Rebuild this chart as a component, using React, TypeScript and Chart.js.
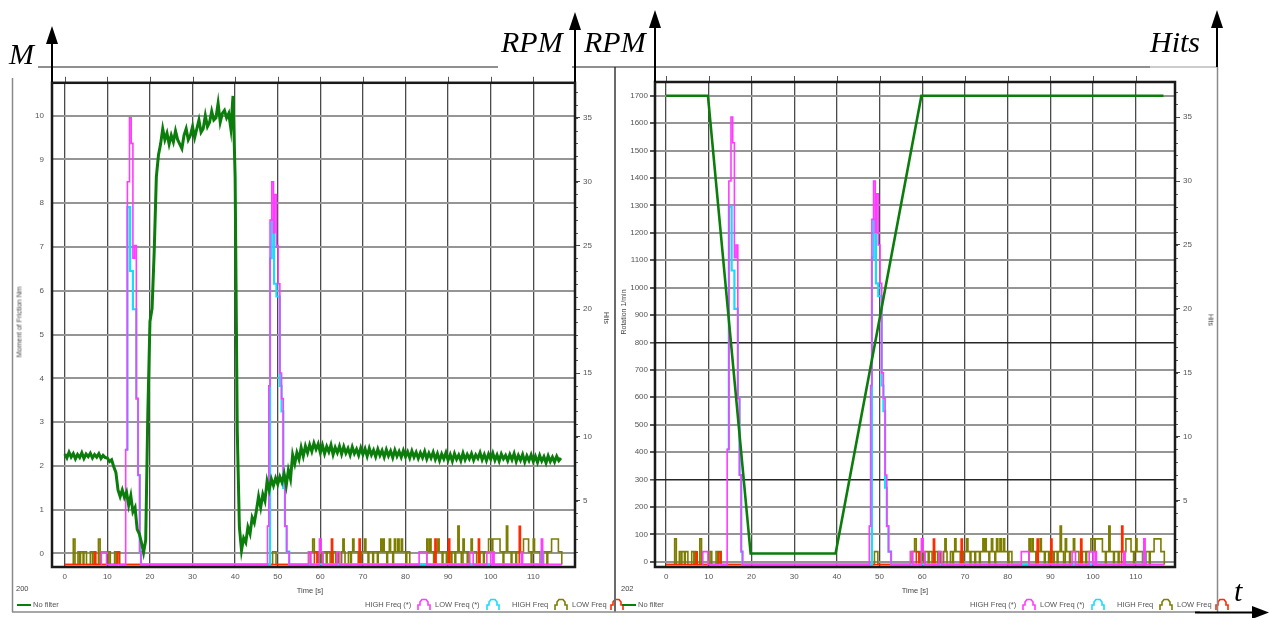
import React, { useEffect, useRef } from "react";
import { Chart, registerables } from "chart.js";

Chart.register(...registerables);

// ---------------- DATA ----------------
// Torque (Moment of Friction, Nm), sampled every 0.5 s from t = 0 s
const SAMPLE_INTERVAL_S = 0.5;
const torqueNm = [
  2.27, 2.18, 2.31, 2.2, 2.28, 2.16, 2.26, 2.19, 2.3, 2.17,
  2.27, 2.21, 2.29, 2.18, 2.26, 2.2, 2.28, 2.17, 2.24, 2.19,
  2.18, 2.1, 2.14, 1.98, 1.85, 1.45, 1.3, 1.45, 1.28, 1.4,
  1.1, 1.32, 0.95, 1.05, 0.55, 0.45, 0.25, 0.02, 0.3, 3.2,
  5.3, 5.6, 6.9, 8.6, 9.1, 9.35, 9.7, 9.45, 9.6, 9.35,
  9.55, 9.4, 9.65, 9.45, 9.35, 9.25, 9.55, 9.7, 9.45, 9.55,
  9.75, 9.5, 9.7, 9.9, 9.62, 9.7, 10.0, 9.75, 9.85, 10.1,
  9.9, 9.95, 10.28, 9.85, 10.05, 10.12, 9.95, 10.05, 9.7, 10.45,
  8.6, 2.8, 0.6, 0.07, 0.35, 0.25, 0.6, 0.45, 0.82, 0.7,
  0.98, 1.3, 1.05, 1.35, 1.2, 1.65, 1.45, 1.7, 1.55, 1.72,
  1.58, 1.75, 1.62, 1.82, 1.55, 1.9, 1.7, 2.25, 2.05, 2.3,
  2.15, 2.42, 2.22, 2.45, 2.3, 2.48, 2.33, 2.52, 2.38, 2.5,
  2.3, 2.47, 2.28, 2.44, 2.32, 2.48, 2.26, 2.42, 2.3, 2.45,
  2.27, 2.44, 2.29, 2.4, 2.25, 2.43, 2.28, 2.38, 2.24, 2.41,
  2.26, 2.39, 2.22, 2.4, 2.25, 2.36, 2.21, 2.38, 2.24, 2.35,
  2.2, 2.37, 2.23, 2.34, 2.19, 2.36, 2.22, 2.33, 2.2, 2.35,
  2.21, 2.32, 2.18, 2.34, 2.2, 2.31, 2.17, 2.3, 2.19, 2.33,
  2.16, 2.29, 2.18, 2.31, 2.15, 2.28, 2.12, 2.27, 2.16, 2.3,
  2.13, 2.26, 2.11, 2.28, 2.15, 2.25, 2.12, 2.29, 2.14, 2.26,
  2.16, 2.28, 2.13, 2.25, 2.17, 2.3, 2.14, 2.26, 2.12, 2.27,
  2.15, 2.29, 2.13, 2.25, 2.11, 2.27, 2.16, 2.24, 2.12, 2.26,
  2.14, 2.28, 2.1, 2.24, 2.13, 2.26, 2.09, 2.23, 2.12, 2.25,
  2.1, 2.22, 2.08, 2.24, 2.11, 2.21, 2.07, 2.23, 2.1, 2.2,
  2.09, 2.22, 2.12, 2.18,
];

// Rotation speed (1/min)
const rpmTimes = [0, 9.8, 19.8, 39.7, 59.8, 116.5];
const rpmValues = [1700, 1700, 30, 30, 1700, 1700];

// Hits – HIGH Freq (*) (magenta); each value holds from its time until the next time
const highStarTimes = [8.5, 8.6, 9.8, 14.3, 14.7, 15.2, 15.6, 16.0, 16.4, 16.8, 17.2, 17.6, 17.9,
  47.6, 47.9, 48.2, 48.6, 49.0, 49.3, 49.7, 50.1, 50.5, 50.9, 51.3, 51.7, 52.1, 52.7,
  57.2, 57.8, 59.8, 60.2, 60.6, 63.9, 64.6, 83.2, 85.0, 95.1, 95.9, 99.1, 100.0, 100.5, 100.8,
  107.2, 107.5, 111.9, 112.2, 116.7];
const highStarHits = [0, 1, 0, 9, 30, 35, 33, 24, 25, 13, 7, 1, 0,
  3, 14, 27, 30, 26, 29, 25, 22, 15, 13, 7, 3, 1, 0,
  1, 0, 2, 1, 0, 1, 0, 1, 0, 1, 0, 1, 0, 1, 0,
  1, 0, 2, 0, 0];

// Hits – LOW Freq (*) (cyan)
const lowStarTimes = [14.3, 14.7, 15.35, 16.0, 16.8, 17.2, 17.6, 17.9,
  48.2, 48.6, 49.15, 49.7, 50.5, 50.9, 51.3, 51.7, 52.1, 52.7, 111.9, 112.2];
const lowStarHits = [9, 28, 23, 20, 13, 7, 1, 0,
  24, 27, 22, 21, 14, 12, 6, 3, 1, 0, 1, 0];

// Hits – HIGH Freq (olive)
const highTimes = [0, 2.0, 2.4, 3.1, 3.5, 3.7, 4.3, 4.5, 5.1, 6.0, 6.5, 6.6, 7.0, 7.9, 8.3, 10.3, 10.7,
  11.7, 12.1, 12.3, 12.9, 48.8, 49.6,
  57.6, 58.2, 58.6, 59.3, 59.5, 60.3, 60.6, 61.4, 61.6, 62.3, 63.0, 63.6, 63.8, 64.2,
  65.0, 65.3, 65.6, 65.8, 66.6, 67.1, 67.3, 67.6, 67.9, 68.9,
  69.7, 70.4, 70.7, 71.2, 71.4, 72.3, 72.5, 73.4, 73.6, 74.2, 74.5, 74.7, 75.0, 75.6, 75.8,
  76.2, 76.5, 77.0, 77.2, 77.4, 77.7, 78.2, 78.5, 79.0, 79.3, 80.1, 80.3, 81.0,
  85.0, 85.3, 85.7, 86.0, 86.6, 86.8, 87.6, 87.9, 88.6, 88.8, 89.6, 89.8, 90.7, 90.9, 91.6, 91.8,
  92.3, 92.6, 93.1, 93.5, 93.8, 94.5, 94.7, 95.4, 95.7, 96.7,
  97.5, 98.3, 98.5, 99.5, 100.3, 100.5, 102.2, 102.9, 103.1, 103.7, 104.0, 104.8, 105.0, 105.9, 106.1,
  107.7, 108.9, 109.5, 109.7, 110.0, 110.3, 111.6, 112.4, 113.2, 113.4, 114.3, 115.9, 116.7];
const highHits = [0, 2, 0, 1, 0, 1, 0, 1, 0, 1, 0, 1, 0, 2, 0, 1, 0,
  1, 0, 1, 0, 1, 0,
  1, 2, 1, 0, 1, 0, 1, 0, 1, 0, 1, 0, 1, 0,
  1, 2, 1, 0, 1, 0, 1, 2, 1, 0,
  1, 2, 1, 0, 1, 0, 1, 0, 1, 2, 1, 2, 1, 0, 1,
  2, 1, 0, 1, 2, 1, 2, 1, 2, 1, 0, 1, 0,
  2, 1, 2, 1, 0, 1, 2, 1, 0, 1, 0, 1, 0, 1, 0, 1,
  3, 1, 0, 2, 1, 0, 1, 2, 1, 0,
  1, 0, 1, 2, 1, 2, 1, 0, 1, 3, 1, 0, 1, 0, 1,
  2, 1, 0, 1, 2, 1, 0, 1, 0, 1, 2, 1, 0];

// Hits – LOW Freq (red)
const lowTimes = [0, 7.0, 7.3, 12.4, 12.8, 58.6, 59.2, 62.6, 62.9, 69.1, 69.4, 86.9, 87.2,
  90.1, 90.4, 97.1, 97.4, 106.7, 107.0, 107.4, 116.7];
const lowHits = [0, 1, 0, 1, 0, 1, 0, 2, 0, 2, 0, 2, 0, 2, 0, 2, 0, 3, 1, 0, 0];

// Tick labels
const timeTicks = [0, 10, 20, 30, 40, 50, 60, 70, 80, 90, 100, 110];
const torqueTicks = [0, 1, 2, 3, 4, 5, 6, 7, 8, 9, 10];
const rpmTicks = [0, 100, 200, 300, 400, 500, 600, 700, 800, 900, 1000, 1100, 1200, 1300, 1400, 1500, 1600, 1700];
const hitsTicks = [5, 10, 15, 20, 25, 30, 35];
const rpmDarkLines = [300, 800];

// ---------------- HELPERS ----------------
const FONT = "'Liberation Sans', Arial, sans-serif";
const SERIF = "'Liberation Serif', 'Times New Roman', serif";

const pairs = (xs: number[], ys: number[]) => xs.map((x, i) => ({ x, y: ys[i] }));

const hitDatasets = () => [
  { data: pairs(highStarTimes, highStarHits), borderColor: "#ff3cff", borderWidth: 1.6, stepped: "before", yAxisID: "y2", pointRadius: 0 },
  { data: pairs(lowStarTimes, lowStarHits), borderColor: "#18dcff", borderWidth: 2.2, stepped: "before", yAxisID: "y2", pointRadius: 0 },
  { data: pairs(lowTimes, lowHits), borderColor: "#ff2a00", borderWidth: 1.5, stepped: "before", yAxisID: "y2", pointRadius: 0 },
  { data: pairs(highTimes, highHits), borderColor: "#7d7d00", borderWidth: 1.6, stepped: "before", yAxisID: "y2", pointRadius: 0 },
];

const framePlugin = {
  id: "frame",
  afterDraw(chart: any) {
    const { ctx, chartArea: a, scales } = chart;
    ctx.save();
    ctx.strokeStyle = "#555";
    ctx.lineWidth = 1;
    timeTicks.forEach((v) => {
      const x = Math.round(scales.x.getPixelForValue(v)) + 0.5;
      ctx.beginPath();
      ctx.moveTo(x, a.top - 6);
      ctx.lineTo(x, a.top);
      ctx.stroke();
    });
    for (let v = 1; v <= 37; v++) {
      const y = Math.round(scales.y2.getPixelForValue(v)) + 0.5;
      ctx.beginPath();
      ctx.moveTo(a.right, y);
      ctx.lineTo(a.right + 3, y);
      ctx.stroke();
    }
    ctx.strokeStyle = "#1a1a1a";
    ctx.lineWidth = 2.5;
    ctx.strokeRect(a.left, a.top, a.right - a.left, a.bottom - a.top);
    ctx.restore();
  },
};

function makeOptions(cfg: any) {
  const tickFont = { size: 8, family: FONT };
  return {
    responsive: false,
    animation: false,
    events: [],
    layout: { padding: { top: 12, left: 0, right: 0, bottom: 0 } },
    plugins: { legend: { display: false }, tooltip: { enabled: false } },
    scales: {
      x: {
        type: "linear",
        min: cfg.xMin,
        max: cfg.xMax,
        afterBuildTicks: (s: any) => { s.ticks = timeTicks.map((v) => ({ value: v })); },
        afterFit: (s: any) => { s.height = 45; },
        grid: { color: "#4a4a4a", lineWidth: 1.3, drawTicks: false },
        border: { display: false },
        ticks: { font: tickFont, color: "#555", padding: 5, maxRotation: 0, autoSkip: false, callback: (v: any) => String(v) },
      },
      y: {
        position: "left",
        min: cfg.yMin,
        max: cfg.yMax,
        afterBuildTicks: (s: any) => { s.ticks = cfg.yTicks.map((v: number) => ({ value: v })); },
        afterFit: (s: any) => { s.width = cfg.leftW; },
        grid: {
          color: (c: any) => (c.tick && rpmDarkLines.includes(c.tick.value) && cfg.darkLines ? "#262626" : "#959595"),
          lineWidth: (c: any) => (c.tick && rpmDarkLines.includes(c.tick.value) && cfg.darkLines ? 1.6 : 2),
          drawTicks: cfg.yDrawTicks,
          tickLength: 5,
          tickColor: "#555",
        },
        border: { display: false },
        ticks: { font: tickFont, color: "#555", padding: cfg.yPad, autoSkip: false, callback: (v: any) => String(v) },
      },
      y2: {
        position: "right",
        min: -0.2,
        max: 37.75,
        afterBuildTicks: (s: any) => { s.ticks = hitsTicks.map((v) => ({ value: v })); },
        afterFit: (s: any) => { s.width = cfg.rightW; },
        grid: { drawOnChartArea: false, drawTicks: true, tickLength: 5, color: "#444", tickColor: "#444" },
        border: { display: false },
        ticks: { font: tickFont, color: "#555", padding: 3, autoSkip: false, callback: (v: any) => String(v) },
      },
    },
  };
}

const Txt = ({ x, y, text, size = 7.5, rot = 0, color = "#444", anchor = "left", family = FONT, italic = false }: any) => (
  <div
    style={{
      position: "absolute",
      left: x,
      top: y,
      transform: `translate(${anchor === "center" ? "-50%" : "0"}, -50%) rotate(${rot}deg)`,
      fontSize: size,
      fontFamily: family,
      fontStyle: italic ? "italic" : "normal",
      color,
      whiteSpace: "nowrap",
      lineHeight: 1,
    }}
  >
    {text}
  </div>
);

const Icon = ({ x, y, color }: any) => (
  <svg style={{ position: "absolute", left: x, top: y - 7 }} width={14} height={13}>
    <path d="M1 12 V7 H3 V4 L5 1.5 H9 L11 4 V7 H13 V12" fill="none" stroke={color} strokeWidth={1.6} />
  </svg>
);

function Legend({ baseX, items }: any) {
  return (
    <>
      {items.map((it: any, i: number) => (
        <React.Fragment key={i}>
          <Txt x={baseX + it.tx} y={605} text={it.label} size={7.5} color="#555" />
          <Icon x={baseX + it.ix} y={605} color={it.color} />
        </React.Fragment>
      ))}
    </>
  );
}

export default function App() {
  const leftRef = useRef<HTMLCanvasElement | null>(null);
  const rightRef = useRef<HTMLCanvasElement | null>(null);

  useEffect(() => {
    const torqueData = torqueNm.map((v, i) => ({ x: i * SAMPLE_INTERVAL_S, y: v }));
    const left = new Chart(leftRef.current as HTMLCanvasElement, {
      type: "line",
      data: {
        datasets: [
          { data: torqueData, borderColor: "#0b7d0b", borderWidth: 3, yAxisID: "y", pointRadius: 0, tension: 0 },
          ...hitDatasets(),
        ] as any,
      },
      options: makeOptions({ xMin: -3.0, xMax: 119.8, yMin: -0.31, yMax: 10.75, yTicks: torqueTicks, leftW: 40, rightW: 37, yDrawTicks: false, yPad: 8, darkLines: false }) as any,
      plugins: [framePlugin],
    });
    const right = new Chart(rightRef.current as HTMLCanvasElement, {
      type: "line",
      data: {
        datasets: [
          { data: pairs(rpmTimes, rpmValues), borderColor: "#0b7d0b", borderWidth: 2.6, yAxisID: "y", pointRadius: 0, tension: 0 },
          ...hitDatasets(),
        ] as any,
      },
      options: makeOptions({ xMin: -2.6, xMax: 119.2, yMin: -19, yMax: 1750, yTicks: rpmTicks, leftW: 38, rightW: 42, yDrawTicks: true, yPad: 2, darkLines: true }) as any,
      plugins: [framePlugin],
    });
    return () => {
      left.destroy();
      right.destroy();
    };
  }, []);

  const legendItems = [
    { label: "HIGH Freq (*)", tx: 353, ix: 405, color: "#ff3cff" },
    { label: "LOW Freq (*)", tx: 423, ix: 474, color: "#18dcff" },
    { label: "HIGH Freq", tx: 500, ix: 542, color: "#7d7d00" },
    { label: "LOW Freq", tx: 560, ix: 598, color: "#ff2a00" },
  ];

  return (
    <div style={{ position: "fixed", left: 0, top: 0, width: 1269, height: 618, background: "#fff", overflow: "hidden" }}>
      <canvas ref={leftRef} width={600} height={542} style={{ position: "absolute", left: 12, top: 70 }} />
      <canvas ref={rightRef} width={600} height={542} style={{ position: "absolute", left: 617, top: 70 }} />

      <Txt x={19} y={322} text="Moment of Friction Nm" rot={-90} anchor="center" size={7} />
      <Txt x={606} y={318} text="Hits" rot={90} anchor="center" size={7} />
      <Txt x={623} y={312} text="Rotation 1/min" rot={-90} anchor="center" size={7} />
      <Txt x={1211} y={320} text="Hits" rot={90} anchor="center" size={7} />
      <Txt x={310} y={591} text="Time [s]" anchor="center" size={7.5} />
      <Txt x={915} y={591} text="Time [s]" anchor="center" size={7.5} />
      <Txt x={16} y={589} text="200" size={7.5} />
      <Txt x={621} y={589} text="202" size={7.5} />
      <Txt x={33} y={605} text="No filter" size={7.5} color="#555" />
      <Txt x={638} y={605} text="No filter" size={7.5} color="#555" />
      <Legend baseX={12} items={legendItems} />
      <Legend baseX={617} items={legendItems} />

      <svg style={{ position: "absolute", left: 0, top: 0, pointerEvents: "none" }} width={1269} height={618}>
        <line x1={17} y1={605} x2={31} y2={605} stroke="#0b7d0b" strokeWidth={2} />
        <line x1={622} y1={605} x2={636} y2={605} stroke="#0b7d0b" strokeWidth={2} />
        <line x1={12.5} y1={78} x2={12.5} y2={612} stroke="#8a8a8a" strokeWidth={1.5} />
        <line x1={615} y1={67} x2={615} y2={612} stroke="#6a6a6a" strokeWidth={2} />
        <line x1={1217.5} y1={67} x2={1217.5} y2={612} stroke="#8a8a8a" strokeWidth={1.5} />
        <line x1={12} y1={612} x2={1200} y2={612} stroke="#8a8a8a" strokeWidth={1.5} />
        <line x1={38} y1={67} x2={498} y2={67} stroke="#222" strokeWidth={1.2} />
        <line x1={572} y1={67} x2={1150} y2={67} stroke="#222" strokeWidth={1.2} />
        <line x1={1150} y1={67} x2={1217} y2={67} stroke="#999" strokeWidth={1.2} />
        <line x1={52} y1={82} x2={52} y2={40} stroke="#000" strokeWidth={2} />
        <polygon points="52,26 46,44 58,44" fill="#000" />
        <line x1={575} y1={82} x2={575} y2={26} stroke="#000" strokeWidth={2} />
        <polygon points="575,12 569,30 581,30" fill="#000" />
        <line x1={655} y1={82} x2={655} y2={24} stroke="#000" strokeWidth={2} />
        <polygon points="655,10 649,28 661,28" fill="#000" />
        <line x1={1217} y1={67} x2={1217} y2={24} stroke="#000" strokeWidth={2} />
        <polygon points="1217,10 1211,28 1223,28" fill="#000" />
        <line x1={1195} y1={612.5} x2={1256} y2={612.5} stroke="#000" strokeWidth={2} />
        <polygon points="1269,612.5 1252,606 1252,619" fill="#000" />
      </svg>

      <Txt x={9} y={54} text="M" size={30} family={SERIF} italic color="#000" />
      <Txt x={501} y={42} text="RPM" size={30} family={SERIF} italic color="#000" />
      <Txt x={584} y={42} text="RPM" size={30} family={SERIF} italic color="#000" />
      <Txt x={1150} y={42} text="Hits" size={30} family={SERIF} italic color="#000" />
      <Txt x={1234} y={591} text="t" size={30} family={SERIF} italic color="#000" />
    </div>
  );
}
